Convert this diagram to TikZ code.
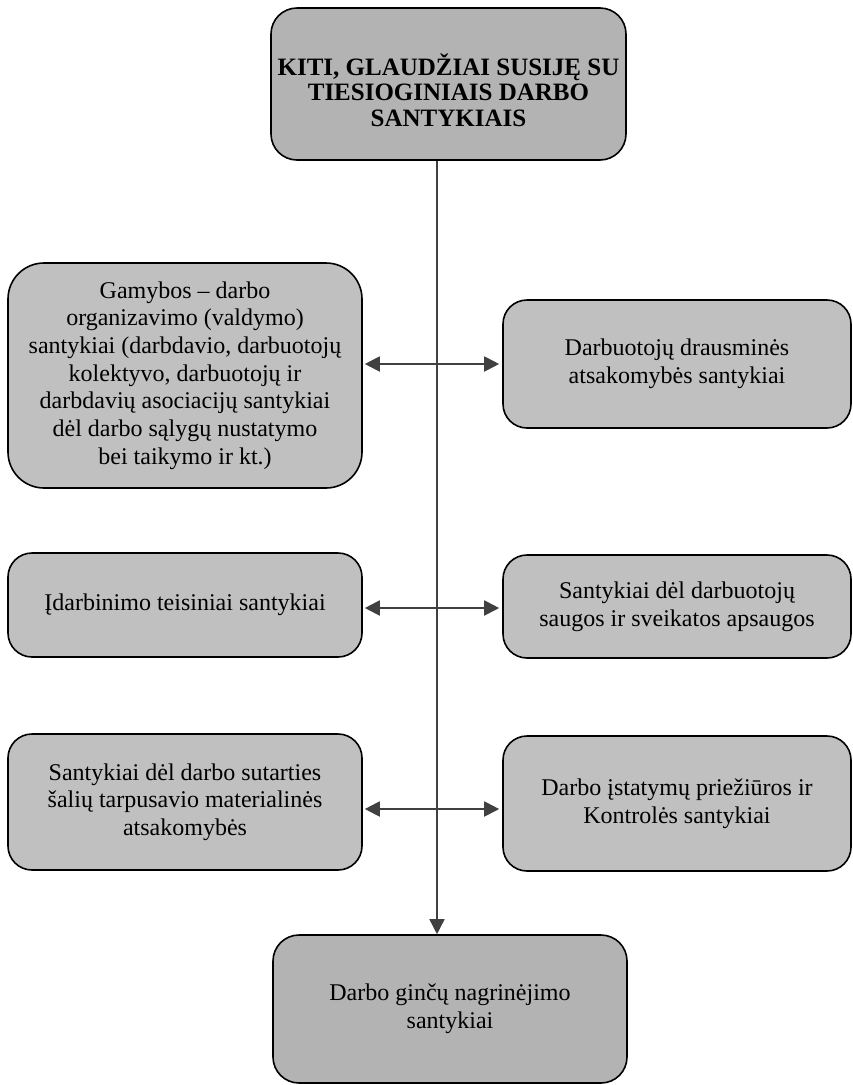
\documentclass[tikz,border=0pt]{standalone}
\usepackage{fontspec}
\setmainfont{Liberation Serif}
\usetikzlibrary{arrows.meta}
\definecolor{sidegray}{HTML}{C0C0C0}
\definecolor{maingray}{HTML}{B3B3B3}
\definecolor{arrowgray}{HTML}{404040}
\tikzset{
  box/.style={draw=black, line width=1.6pt, fill=sidegray, rectangle, align=center,
    inner sep=0pt, font=\fontsize{24}{27.7}\selectfont},
  mainbox/.style={box, fill=maingray, rounded corners=26pt},
  sidebox/.style={box, minimum width=354pt, rounded corners=24pt},
  harr/.style={draw=arrowgray, line width=1.9pt,
    {Triangle[length=15pt,width=15pt]}-{Triangle[length=15pt,width=15pt]}},
  varr/.style={draw=arrowgray, line width=1.5pt, -{Triangle[length=15pt,width=15pt]}},
}
\begin{document}
\begin{tikzpicture}[x=1pt,y=-1pt]
\useasboundingbox (0,0) rectangle (853,1085);
% top and bottom
\node[mainbox, minimum width=355pt, minimum height=152pt,
      font=\bfseries\fontsize{25}{25.5}\selectfont] (top) at (448.5,84)
  {\raisebox{-16pt}[0pt][0pt]{\begin{tabular}{@{}c@{}}KITI, GLAUDŽIAI SUSIJĘ SU\\TIESIOGINIAIS DARBO\\SANTYKIAIS\end{tabular}}};
\node[mainbox, minimum width=354pt, minimum height=148pt] (bot) at (450,1009)
  {Darbo ginčų nagrinėjimo\\santykiai};
% left column
\node[sidebox, minimum height=225pt, rounded corners=36pt] (l1) at (185,375.5)
  {Gamybos – darbo\\organizavimo (valdymo)\\santykiai (darbdavio, darbuotojų\\kolektyvo, darbuotojų ir\\darbdavių asociacijų santykiai\\dėl darbo sąlygų nustatymo\\bei taikymo ir kt.)};
\node[sidebox, minimum height=104pt] (l2) at (185,605)
  {Įdarbinimo teisiniai santykiai};
\node[sidebox, minimum height=136pt] (l3) at (185,802)
  {Santykiai dėl darbo sutarties\\šalių tarpusavio materialinės\\atsakomybės};
% right column
\node[sidebox, minimum width=348pt, minimum height=128pt] (r1) at (677,364)
  {Darbuotojų drausminės\\atsakomybės santykiai};
\node[sidebox, minimum width=348pt, minimum height=103pt] (r2) at (677,606.5)
  {Santykiai dėl darbuotojų\\saugos ir sveikatos apsaugos};
\node[sidebox, minimum width=348pt, minimum height=135pt] (r3) at (677,803.5)
  {Darbo įstatymų priežiūros ir\\Kontrolės santykiai};
% connectors
\coordinate (v) at (437,0);
\coordinate (a1) at (0,364);
\coordinate (a2) at (0,608);
\coordinate (a3) at (0,809);
\draw[varr] (v |- top.south) -- (v |- bot.north);
\draw[harr, shorten <=2pt, shorten >=3pt] (l1.east |- a1) -- (r1.west |- a1);
\draw[harr, shorten <=2pt, shorten >=3pt] (l2.east |- a2) -- (r2.west |- a2);
\draw[harr, shorten <=2pt, shorten >=3pt] (l3.east |- a3) -- (r3.west |- a3);
\end{tikzpicture}
\end{document}
